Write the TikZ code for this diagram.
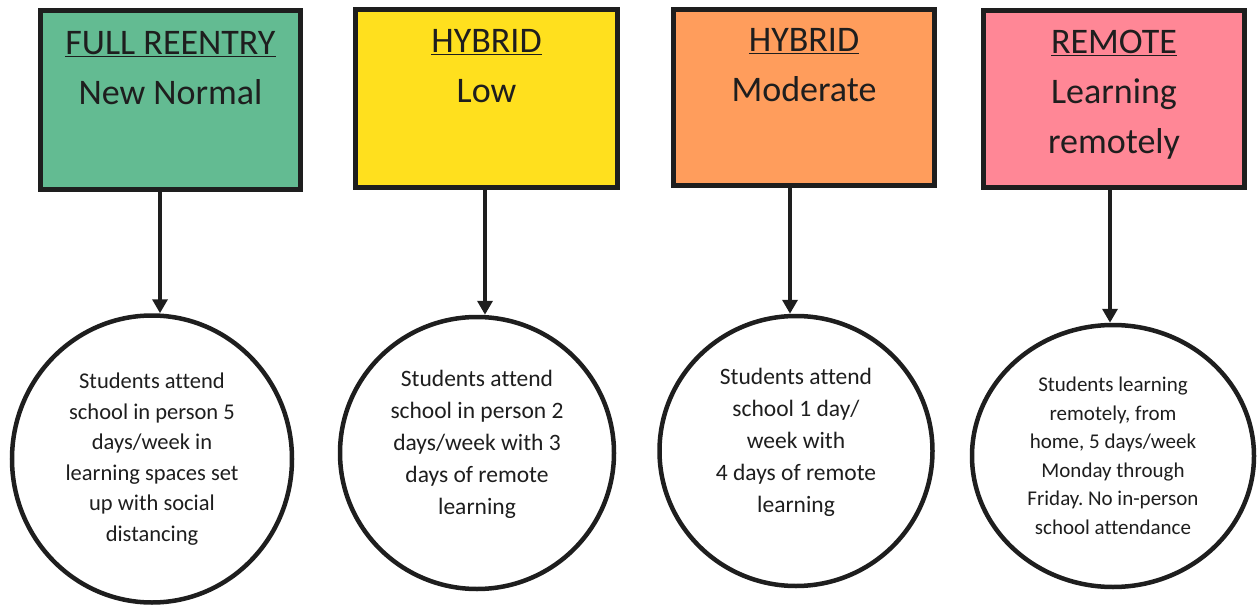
\documentclass[tikz,border=0pt]{standalone}
\usepackage{fontspec}
\setmainfont{Carlito}[Ligatures=NoCommon]
\frenchspacing
\usetikzlibrary{shapes.geometric,arrows.meta}
\definecolor{cgreen}{RGB}{99,187,146}
\definecolor{cyellow}{RGB}{255,224,30}
\definecolor{corange}{RGB}{255,157,92}
\definecolor{cpink}{RGB}{255,135,150}
\definecolor{ink}{RGB}{30,30,30}
\begin{document}
\begin{tikzpicture}[x=1pt,y=-1pt,
  levelbox/.style={draw=ink, line width=5pt, rectangle, align=center, text=ink,
    inner sep=0pt, font=\fontsize{36}{50}\selectfont},
  infoell/.style={draw=ink, fill=white, line width=4.5pt, ellipse, align=center, text=ink, inner sep=0pt},
  arr/.style={draw=ink, line width=4.5pt, -{Triangle[width=15pt,length=14pt]}}]
\useasboundingbox (0,0) rectangle (1259,607);

\node[levelbox, fill=cgreen, minimum width=260pt, minimum height=179pt] (b1) at (170.5,100)
  {\underline{FULL REENTRY}\\New Normal\\\strut};
\node[levelbox, fill=cyellow, minimum width=262pt, minimum height=178pt] (b2) at (486.5,98.5)
  {\underline{HYBRID}\\Low\\\strut};
\node[levelbox, fill=corange, minimum width=261pt, minimum height=176pt] (b3) at (804,97.5)
  {\underline{HYBRID}\\Moderate\\\strut};
\node[levelbox, fill=cpink, minimum width=261pt, minimum height=177pt] (b4) at (1114,99)
  {\underline{REMOTE}\\Learning\\remotely\strut};

\node[infoell, minimum width=280pt, minimum height=287pt, font=\fontsize{22.5}{30.5}\selectfont] (c1) at (152,459)
  {Students attend\\school in person 5\\days/week in\\learning spaces set\\up with social\\distancing};
\node[infoell, minimum width=274pt, minimum height=272pt, font=\fontsize{23.5}{32}\selectfont] (c2) at (477,453)
  {Students attend\\school in person 2\\days/week with 3\\days of remote\\learning\\[-20pt]\strut};
\node[infoell, minimum width=273pt, minimum height=270pt, font=\fontsize{23.5}{32}\selectfont] (c3) at (796,451)
  {Students attend\\school 1 day/\\week with\\4 days of remote\\learning\\[-20pt]\strut};
\node[infoell, minimum width=282pt, minimum height=262pt, font=\fontsize{21}{28.5}\selectfont] (c4) at (1113,456)
  {Students learning\\remotely, from\\home, 5 days/week\\Monday through\\Friday. No in-person\\school attendance};

\coordinate (a1) at (160,0);
\coordinate (a2) at (485,0);
\coordinate (a3) at (790,0);
\coordinate (a4) at (1110,0);
\draw[arr] (b1.south -| a1) -- (c1.north -| a1);
\draw[arr] (b2.south -| a2) -- (c2.north -| a2);
\draw[arr] (b3.south -| a3) -- (c3.north -| a3);
\draw[arr] (b4.south -| a4) -- (c4.north -| a4);
\end{tikzpicture}
\end{document}
